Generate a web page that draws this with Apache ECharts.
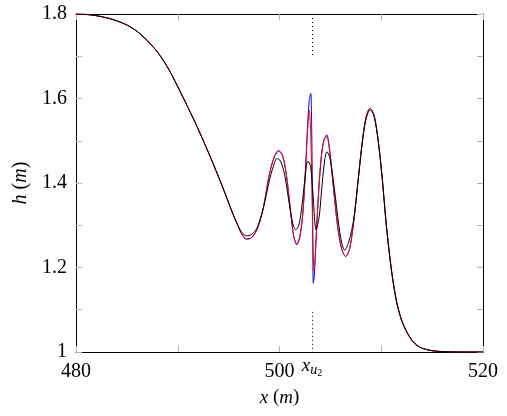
<!DOCTYPE html>
<html>
<head>
<meta charset="utf-8">
<script src="https://cdn.jsdelivr.net/npm/echarts@6/dist/echarts.min.js"></script>
<style>
html,body{margin:0;padding:0;background:#fff;}
#main{width:507px;height:416px;}
</style>
</head>
<body>
<div id="main"></div>
<script>
// shared part of the three curves (left slope)
var headX = [480, 481, 482, 483, 484, 485, 486, 487, 488, 489, 490, 491, 492, 493, 494, 494.8, 495.4, 495.9];
var headH = [1.8, 1.799, 1.796, 1.791, 1.784, 1.774, 1.759, 1.737, 1.710, 1.674, 1.628, 1.579, 1.528, 1.473, 1.415, 1.366, 1.328, 1.300];

// shared right part
var tailX = [507.7, 508.1, 508.5, 508.9, 509.3, 509.7, 510.1, 510.5, 511, 511.5, 512, 512.5, 513, 513.5, 514, 515, 516, 518, 520];
var tailH = [1.40, 1.49, 1.555, 1.577, 1.56, 1.50, 1.41, 1.30, 1.194, 1.12, 1.075, 1.048, 1.028, 1.016, 1.009, 1.003, 1.001, 1.0, 1.0];
var blackTailH = [1.40, 1.488, 1.551, 1.573, 1.557, 1.50, 1.41, 1.30, 1.194, 1.12, 1.075, 1.048, 1.028, 1.016, 1.009, 1.003, 1.001, 1.0, 1.0];

// middle (oscillations)
var blueX = [496.3, 496.75, 497.25, 497.8, 498.4, 499, 499.5, 499.9, 500.3, 500.7, 501.1, 501.4, 501.7, 502.0, 502.3, 502.55, 502.75, 502.92, 503.07, 503.17, 503.25, 503.32, 503.42, 503.6, 503.85, 504.15, 504.4, 504.64, 504.9, 505.3, 505.7, 506.1, 506.5, 506.9, 507.3];
var blueH = [1.278, 1.267, 1.270, 1.29, 1.34, 1.42, 1.463, 1.477, 1.466, 1.415, 1.33, 1.273, 1.254, 1.272, 1.33, 1.43, 1.53, 1.595, 1.612, 1.52, 1.33, 1.163, 1.18, 1.27, 1.38, 1.47, 1.505, 1.514, 1.485, 1.39, 1.30, 1.245, 1.226, 1.245, 1.31];

var redX = [496.3, 496.75, 497.25, 497.8, 498.4, 499, 499.5, 499.9, 500.3, 500.7, 501.1, 501.4, 501.7, 502.0, 502.3, 502.55, 502.75, 502.93, 503.05, 503.15, 503.27, 503.39, 503.52, 503.75, 504.05, 504.35, 504.64, 504.9, 505.3, 505.7, 506.1, 506.5, 506.9, 507.3];
var redH = [1.279, 1.268, 1.271, 1.29, 1.34, 1.42, 1.462, 1.475, 1.465, 1.415, 1.33, 1.274, 1.256, 1.274, 1.33, 1.43, 1.52, 1.571, 1.53, 1.43, 1.28, 1.192, 1.23, 1.34, 1.45, 1.50, 1.51, 1.48, 1.39, 1.30, 1.245, 1.226, 1.245, 1.31];

var blackX = [496.3, 496.75, 497.25, 497.8, 498.4, 499, 499.4, 499.75, 500.1, 500.5, 500.9, 501.3, 501.6, 501.9, 502.2, 502.5, 502.78, 503.05, 503.3, 503.6, 503.9, 504.2, 504.45, 504.65, 504.95, 505.4, 505.8, 506.1, 506.4, 506.8, 507.3];
var blackH = [1.283, 1.275, 1.278, 1.294, 1.34, 1.405, 1.44, 1.458, 1.452, 1.42, 1.36, 1.305, 1.289, 1.30, 1.345, 1.41, 1.452, 1.44, 1.37, 1.289, 1.32, 1.40, 1.455, 1.474, 1.46, 1.385, 1.305, 1.26, 1.241, 1.26, 1.315];

// dotted marker x_{u2}
var xU2 = 503.2;
var dotTop = [1.8, 1.703];
var dotBottom = [1.095, 1.0];

var serif = '"Liberation Serif", "DejaVu Serif", serif';

function pairs(xs, hs){
	var out = [];
	for (var i = 0; i < xs.length; i++) out.push([xs[i], hs[i]]);
	return out;
}

function curve(midX, midH, tH){
	return pairs(headX, headH).concat(pairs(midX, midH)).concat(pairs(tailX, tH));
}

function lineSeries(name, color, data, z){
	return {
		name: name,
		type: 'line',
		data: data,
		showSymbol: false,
		smooth: 0.3,
		z: z,
		lineStyle: {color: color, width: 1},
		itemStyle: {color: color},
		animation: false
	};
}

var tickStyle = {show: true, inside: true, length: 6, lineStyle: {color: '#b4b4b4', width: 1}};
var lineBlack = {show: true, onZero: false, lineStyle: {color: '#000', width: 1}};

var chart = echarts.init(document.getElementById('main'));

var blackS = lineSeries('black', '#000000', curve(blackX, blackH, blackTailH), 4);
blackS.markLine = {
	silent: true,
	symbol: 'none',
	animation: false,
	lineStyle: {color: '#000', type: [1, 3], width: 1},
	label: {
		show: true,
		position: 'end',
		distance: 2,
		formatter: '{a|x}{b|u}{c|2}',
		rich: {
			a: {fontFamily: serif, fontStyle: 'italic', fontSize: 19, color: '#000'},
			b: {fontFamily: serif, fontStyle: 'italic', fontSize: 14, color: '#000', padding: [8, 0, 0, 0]},
			c: {fontFamily: serif, fontSize: 10, color: '#000', padding: [14, 0, 0, 0]}
		}
	},
	data: [
		[{coord: [xU2, dotTop[0]], label: {show: false}}, {coord: [xU2, dotTop[1]]}],
		[{coord: [xU2, dotBottom[0]]}, {coord: [xU2, dotBottom[1]]}]
	]
};

var option = {
	backgroundColor: '#fff',
	animation: false,
	grid: {left: 76, right: 24, top: 14, bottom: 64},
	xAxis: [{
		type: 'value', min: 480, max: 520, interval: 10,
		position: 'bottom',
		name: '{i|x} ({i|m})',
		nameLocation: 'middle',
		nameGap: 36,
		nameTextStyle: {fontFamily: serif, fontSize: 19, color: '#000',
			rich: {i: {fontFamily: serif, fontStyle: 'italic', fontSize: 19, color: '#000'}}},
		axisLine: lineBlack,
		axisTick: tickStyle,
		splitLine: {show: false},
		axisLabel: {
			fontFamily: serif, fontSize: 20, color: '#000', margin: 10,
			showMinLabel: true, showMaxLabel: true,
			formatter: function(v){ return v % 20 === 0 ? String(v) : ''; }
		}
	}, {
		type: 'value', min: 480, max: 520, interval: 10,
		position: 'top',
		axisLine: lineBlack,
		axisTick: tickStyle,
		splitLine: {show: false},
		axisLabel: {show: false}
	}],
	yAxis: [{
		type: 'value', min: 1, max: 1.8, interval: 0.1,
		position: 'left',
		name: '{i|h} ({i|m})',
		nameLocation: 'middle',
		nameGap: 44,
		nameRotate: 90,
		nameTextStyle: {fontFamily: serif, fontSize: 20, color: '#000',
			rich: {i: {fontFamily: serif, fontStyle: 'italic', fontSize: 20, color: '#000'}}},
		axisLine: lineBlack,
		axisTick: tickStyle,
		splitLine: {show: false},
		axisLabel: {
			fontFamily: serif, fontSize: 20, color: '#000', margin: 9,
			showMinLabel: true, showMaxLabel: true,
			formatter: function(v){
				var t = Math.round(v * 10);
				return t % 2 === 0 ? String(t / 10) : '';
			}
		}
	}, {
		type: 'value', min: 1, max: 1.8, interval: 0.1,
		position: 'right',
		axisLine: lineBlack,
		axisTick: tickStyle,
		splitLine: {show: false},
		axisLabel: {show: false}
	}],
	series: [
		lineSeries('blue', '#0000ff', curve(blueX, blueH, tailH), 2),
		lineSeries('red', '#ff0000', curve(redX, redH, tailH), 3),
		blackS
	]
};
chart.setOption(option);
</script>
</body>
</html>
